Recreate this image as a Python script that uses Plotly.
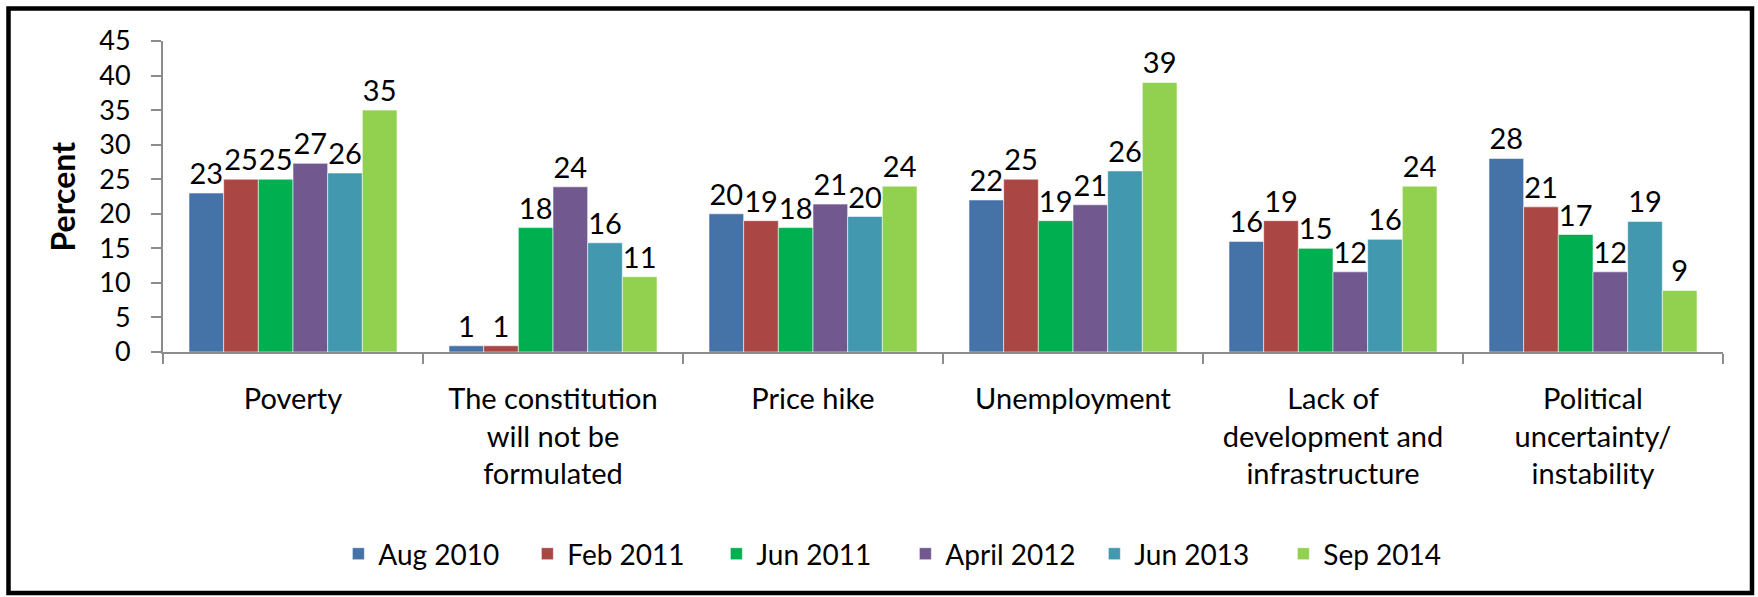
import plotly.graph_objects as go

categories = ["Poverty", "The constitution<br>will not be<br>formulated", "Price hike",
              "Unemployment", "Lack of<br>development and<br>infrastructure",
              "Political<br>uncertainty/<br>instability"]
series_names = ["Aug 2010", "Feb 2011", "Jun 2011", "April 2012", "Jun 2013", "Sep 2014"]
aug_2010 = [23, 0.9, 20, 22, 16, 28]
feb_2011 = [25, 0.9, 19, 25, 19, 21]
jun_2011 = [25, 18, 18, 19, 15, 17]
apr_2012 = [27.3, 23.9, 21.4, 21.3, 11.6, 11.6]
jun_2013 = [25.9, 15.8, 19.6, 26.2, 16.3, 18.9]
sep_2014 = [35, 10.9, 24, 39, 24, 8.9]
series_values = [aug_2010, feb_2011, jun_2011, apr_2012, jun_2013, sep_2014]
colors = ["#4572A7", "#AA4643", "#00B050", "#71588F", "#4198AF", "#92D050"]
y_ticks = [0, 5, 10, 15, 20, 25, 30, 35, 40, 45]

FONT = "Lato, Carlito, 'Open Sans', sans-serif"
W, H = 1758, 597
ML, MR, MT, MB = 163, 35, 41, 245
PW, PH = W - ML - MR, H - MT - MB

fig = go.Figure()
for name, vals, col in zip(series_names, series_values, colors):
    fig.add_trace(go.Bar(
        x=categories, y=vals, name=name,
        marker=dict(color=col, line=dict(color="rgba(255,255,255,0.55)", width=1)),
        texttemplate="%{y:.0f}", textposition="outside", constraintext="none",
        textfont=dict(family=FONT, size=29, color="#000000"),
        cliponaxis=False,
    ))

def px_x(px):
    return (px - ML) / PW

def px_y(py):
    return (H - py - MB) / PH

fig.update_layout(
    width=W, height=H,
    margin=dict(l=ML, r=MR, t=MT, b=MB, autoexpand=False),
    paper_bgcolor="white", plot_bgcolor="white",
    barmode="group", bargap=0.2, bargroupgap=0,
    font=dict(family=FONT, color="#000000"),
    showlegend=True,
    legend=dict(orientation="h", xref="container", yref="container",
                x=0.515, y=0.072, xanchor="center", yanchor="middle",
                font=dict(family=FONT, size=28, color="#000000"),
                itemwidth=30, traceorder="normal",
                entrywidth=144, entrywidthmode="pixels"),
    xaxis=dict(showline=True, linecolor="#8C8C8C", linewidth=2,
               ticks="outside", ticklen=10, tickcolor="#8C8C8C", tickwidth=2,
               tickson="boundaries", showgrid=False, automargin=False,
               tickfont=dict(family=FONT, size=29, color="#000000"),
               ticklabelstandoff=20),
    yaxis=dict(range=[0, 45], tickvals=y_ticks, showline=True, linecolor="#8C8C8C",
               linewidth=2, ticks="outside", ticklen=10, tickcolor="#8C8C8C",
               tickwidth=2, showgrid=False, zeroline=False, automargin=False,
               tickfont=dict(family=FONT, size=27, color="#000000"),
               ticklabelstandoff=15),
    shapes=[dict(type="rect", xref="paper", yref="paper",
                 x0=px_x(8.5), x1=px_x(1752), y0=px_y(593), y1=px_y(8.5),
                 line=dict(color="#000000", width=4.5), layer="above")],
    annotations=[dict(text="<b>Percent</b>", xref="paper", yref="paper",
                      x=px_x(62), y=0.5, xanchor="center", yanchor="middle",
                      textangle=-90, showarrow=False,
                      font=dict(family=FONT, size=32, color="#000000"))],
)

fig.write_html("out.html", config={"displayModeBar": False},
               post_script="document.body.style.margin='0';document.body.style.overflow='hidden';")
